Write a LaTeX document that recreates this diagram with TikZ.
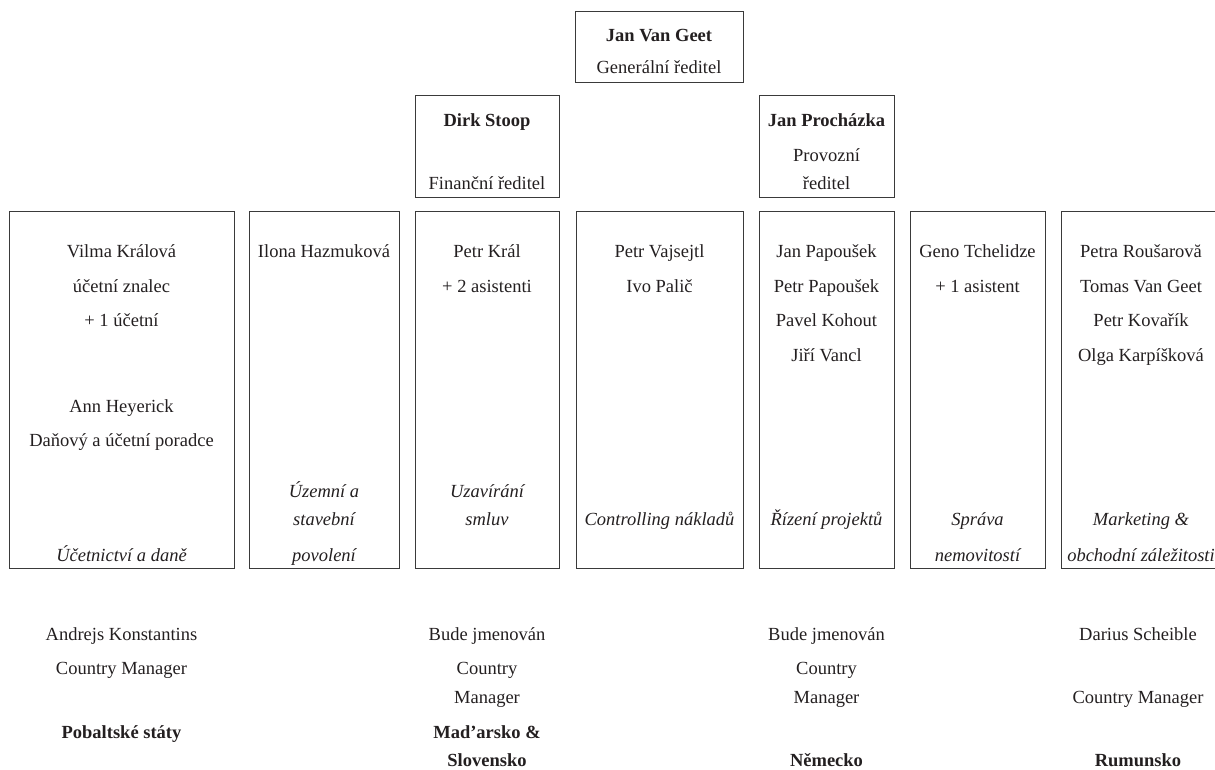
\documentclass[tikz,border=0pt]{standalone}
\usepackage{fontspec}
\setmainfont{Liberation Serif}
\definecolor{ink}{HTML}{231F20}
\definecolor{frame}{HTML}{3A3A3A}
\tikzset{
  box/.style={draw=frame, line width=1pt, rectangle, inner sep=0pt, outer sep=0pt},
  txt/.style={anchor=base, inner sep=0pt, text=ink, font=\fontsize{18.5}{22}\selectfont},
  btxt/.style={txt, font=\fontsize{18.5}{22}\selectfont\bfseries},
  itxt/.style={txt, font=\fontsize{18.5}{22}\selectfont\itshape}
}
\begin{document}
\begin{tikzpicture}[x=1pt,y=-1pt]
\useasboundingbox (0,0) rectangle (1215,770);
% top boxes
\node[box, minimum width=168pt, minimum height=71pt] (ceo) at (659,47.5) {};
\node[box, minimum width=144pt, minimum height=102pt] (cfo) at (487,147) {};
\node[box, minimum width=135pt, minimum height=102pt] (coo) at (826.5,147) {};
\node[btxt] (ceo1) at (659,42) {Jan Van Geet};
\node[txt] (ceo2) at (659,74) {Generální ředitel};
\node[btxt] (cfo1) at (487,127) {Dirk Stoop};
\node[txt] (cfo2) at (487,190) {Finanční ředitel};
\node[btxt] (coo1) at (826.5,127) {Jan Procházka};
\node[txt] (coo2) at (826.5,162) {Provozní};
\node[txt] (coo3) at (826.5,190) {ředitel};
% department boxes
\node[box, minimum width=225pt, minimum height=356pt] (d1) at (121.5,390) {};
\node[box, minimum width=150pt, minimum height=356pt] (d2) at (324,390) {};
\node[box, minimum width=144pt, minimum height=356pt] (d3) at (487,390) {};
\node[box, minimum width=167pt, minimum height=356pt] (d4) at (659.5,390) {};
\node[box, minimum width=135pt, minimum height=356pt] (d5) at (826.5,390) {};
\node[box, minimum width=135pt, minimum height=356pt] (d6) at (977.5,390) {};
\node[box, minimum width=160pt, minimum height=356pt] (d7) at (1141,390) {};
% d1
\node[txt] (d1a) at (121.5,257) {Vilma Králová};
\node[txt] (d1b) at (121.5,292) {účetní znalec};
\node[txt] (d1c) at (121.5,326) {+ 1 účetní};
\node[txt] (d1d) at (121.5,412) {Ann Heyerick};
\node[txt] (d1e) at (121.5,446) {Daňový a účetní poradce};
\node[itxt] (d1f) at (121.5,561) {Účetnictví a daně};
% d2
\node[txt] (d2a) at (324,257) {Ilona Hazmuková};
\node[itxt] (d2b) at (324,497) {Územní a};
\node[itxt] (d2c) at (324,525) {stavební};
\node[itxt] (d2d) at (324,561) {povolení};
% d3
\node[txt] (d3a) at (487,257) {Petr Král};
\node[txt] (d3b) at (487,292) {+ 2 asistenti};
\node[itxt] (d3c) at (487,497) {Uzavírání};
\node[itxt] (d3d) at (487,525) {smluv};
% d4
\node[txt] (d4a) at (659.5,257) {Petr Vajsejtl};
\node[txt] (d4b) at (659.5,292) {Ivo Palič};
\node[itxt] (d4c) at (659.5,525) {Controlling nákladů};
% d5
\node[txt] (d5a) at (826.5,257) {Jan Papoušek};
\node[txt] (d5b) at (826.5,292) {Petr Papoušek};
\node[txt] (d5c) at (826.5,326) {Pavel Kohout};
\node[txt] (d5d) at (826.5,361) {Jiří Vancl};
\node[itxt] (d5e) at (826.5,525) {Řízení projektů};
% d6
\node[txt] (d6a) at (977.5,257) {Geno Tchelidze};
\node[txt] (d6b) at (977.5,292) {+ 1 asistent};
\node[itxt] (d6c) at (977.5,525) {Správa};
\node[itxt] (d6d) at (977.5,561) {nemovitostí};
% d7
\node[txt] (d7a) at (1141,257) {Petra Roušarovă};
\node[txt] (d7b) at (1141,292) {Tomas Van Geet};
\node[txt] (d7c) at (1141,326) {Petr Kovařík};
\node[txt] (d7d) at (1141,361) {Olga Karpíšková};
\node[itxt] (d7e) at (1141,525) {Marketing \&};
\node[itxt] (d7f) at (1141,561) {obchodní záležitosti};
% country managers
\node[txt] (c1a) at (121.5,640) {Andrejs Konstantins};
\node[txt] (c1b) at (121.5,674) {Country Manager};
\node[btxt] (c1c) at (121.5,738) {Pobaltské státy};
\node[txt] (c2a) at (487,640) {Bude jmenován};
\node[txt] (c2b) at (487,674) {Country};
\node[txt] (c2c) at (487,703) {Manager};
\node[btxt] (c2d) at (487,738) {Mad’arsko \&};
\node[btxt] (c2e) at (487,766) {Slovensko};
\node[txt] (c3a) at (826.5,640) {Bude jmenován};
\node[txt] (c3b) at (826.5,674) {Country};
\node[txt] (c3c) at (826.5,703) {Manager};
\node[btxt] (c3d) at (826.5,766) {Německo};
\node[txt] (c4a) at (1138,640) {Darius Scheible};
\node[txt] (c4b) at (1138,703) {Country Manager};
\node[btxt] (c4c) at (1138,766) {Rumunsko};
\end{tikzpicture}
\end{document}
